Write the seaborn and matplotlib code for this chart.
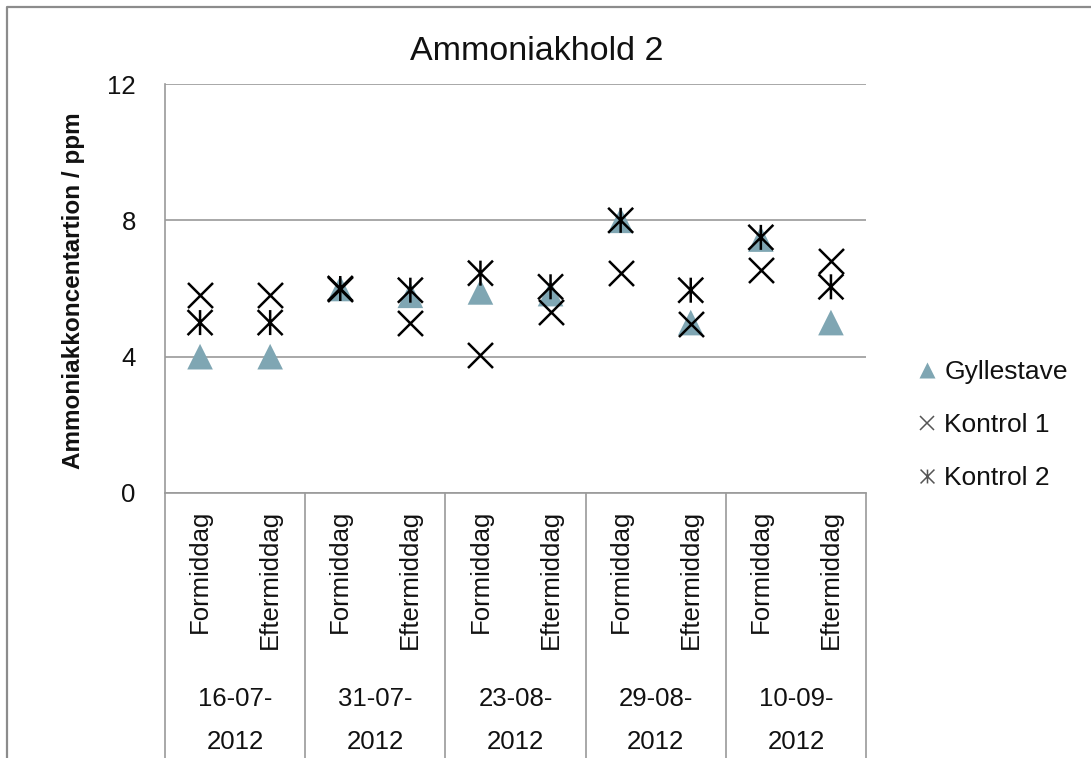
import numpy as np
import pandas as pd
import matplotlib
matplotlib.use("Agg")
import matplotlib.pyplot as plt
import seaborn as sns
from matplotlib.path import Path
from matplotlib.lines import Line2D

# data
dates = ["16-07-2012", "31-07-2012", "23-08-2012", "29-08-2012", "10-09-2012"]
periods = ["Formiddag", "Eftermiddag"]
gyllestave = [4.0, 4.0, 6.0, 5.8, 5.9, 5.85, 8.0, 5.0, 7.45, 5.0]
kontrol1 = [5.8, 5.8, 6.0, 5.0, 4.05, 5.3, 6.45, 4.95, 6.55, 6.8]
kontrol2 = [5.0, 5.0, 6.0, 5.95, 6.45, 6.05, 8.0, 5.95, 7.5, 6.05]
yticks = [0, 4, 8, 12]

tick_labels = [p for d in dates for p in periods]
pos = np.arange(len(tick_labels))
df = pd.DataFrame({"pos": pos, "Gyllestave": gyllestave,
                   "Kontrol 1": kontrol1, "Kontrol 2": kontrol2})

sns.set_style("white")
plt.rcParams["font.family"] = ["Liberation Sans", "DejaVu Sans"]

grey = "#9a9a9a"
tri_col = "#7FA6B3"

# excel style star: an x with a vertical bar
star = Path([(-1, -1), (1, 1), (-1, 1), (1, -1), (0, -1), (0, 1)],
            [Path.MOVETO, Path.LINETO, Path.MOVETO, Path.LINETO, Path.MOVETO, Path.LINETO])

fig = plt.figure(figsize=(10.91, 7.58), dpi=100)
ax = fig.add_axes([165 / 1091, 1 - 493 / 758, 701 / 1091, 409 / 758])

sns.scatterplot(data=df, x="pos", y="Gyllestave", marker="^", s=340,
                color=tri_col, edgecolor="none", ax=ax, zorder=3)
sns.scatterplot(data=df, x="pos", y="Kontrol 1", marker="x", s=324,
                color="black", linewidth=1.8, ax=ax, zorder=4)
sns.scatterplot(data=df, x="pos", y="Kontrol 2", marker=star, s=324,
                facecolor="none", edgecolor="black", linewidth=1.8, ax=ax, zorder=5)

ax.set_xlim(-0.5, len(pos) - 0.5)
ax.set_ylim(0, 12)
ax.set_yticks(yticks)
ax.yaxis.grid(True, color=grey, linewidth=1.2)
ax.set_axisbelow(True)
for s in ["top", "right"]:
    ax.spines[s].set_visible(False)
for s in ["left", "bottom"]:
    ax.spines[s].set_color(grey)
    ax.spines[s].set_linewidth(1.2)

ax.set_xticks(pos)
ax.set_xticklabels(tick_labels, rotation=90, va="top", fontsize=18.5, color="#111111")
ax.tick_params(axis="x", length=0, pad=12)
ax.tick_params(axis="y", length=0, pad=21, labelsize=18.5, labelcolor="#111111")
ax.set_xlabel("")
ax.set_ylabel("Ammoniakkoncentartion / ppm", fontsize=17.5, fontweight="bold", color="#111111")
ax.yaxis.set_label_coords(-0.114, 0.494)

# category table below the axis
xt = ax.get_xaxis_transform()
for b in np.arange(-0.5, len(pos), 2):
    ax.plot([b, b], [0, -0.66], color=grey, linewidth=1.2, transform=xt, clip_on=False)
for i, d in enumerate(dates):
    c = 2 * i + 0.5
    ax.text(c, (493 - 699) / 409, d[:6], transform=xt, ha="center", va="center",
            fontsize=18.5, color="#111111")
    ax.text(c, (493 - 742) / 409, d[6:], transform=xt, ha="center", va="center",
            fontsize=18.5, color="#111111")

fig.text(537 / 1091, 1 - 52 / 758, "Ammoniakhold 2", ha="center", va="center",
         fontsize=24.5, color="#111111")

handles = [
    Line2D([], [], linestyle="none", marker="^", markersize=12, color=tri_col, markeredgecolor="none"),
    Line2D([], [], linestyle="none", marker="x", markersize=10, color="#555555", markeredgewidth=1.1),
    Line2D([], [], linestyle="none", marker=star, markersize=10, color="#555555",
           markerfacecolor="none", markeredgewidth=1.1),
]
fig.legend(handles, ["Gyllestave", "Kontrol 1", "Kontrol 2"], loc="center left",
           bbox_to_anchor=(906 / 1091, 1 - 425 / 758), frameon=False, fontsize=19,
           handlelength=0.6, handletextpad=0.35, labelspacing=1.1, borderpad=0,
           labelcolor="#111111")

# outer chart border (top and left only, rest is cropped)
bx, by = 7 / 1091, 1 - 7 / 758
fig.add_artist(Line2D([bx, bx, 1], [0, by, by], color="#8c8c8c", linewidth=1.6,
                      transform=fig.transFigure))

fig.savefig("out.png", dpi=100)
